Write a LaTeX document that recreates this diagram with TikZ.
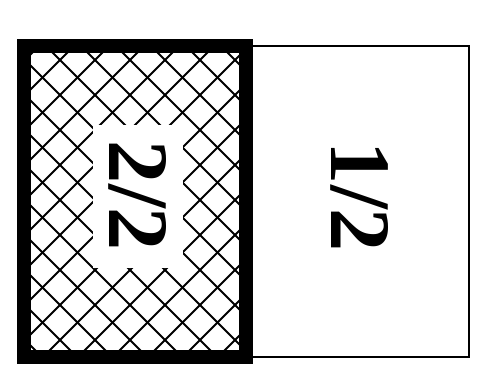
\documentclass[tikz,border=0pt]{standalone}
\usepackage{fontspec}
\setmainfont{Liberation Serif}

\begin{document}
\begin{tikzpicture}[
    line width=1.1pt, color=black,
    hatch/.style={line width=1.1pt},
    frac/.style={font=\fontsize{49}{49}\selectfont\bfseries, text=black, rotate=-90, inner sep=0pt}]
  % fixed canvas
  \path[use as bounding box] (0,0) rectangle (9.54,7.52);

  % ================= right half: plain sheet =================
  \draw (4.92,0.38) rectangle (9.38,6.60);
  \node[frac] (rhalf) at (7.20,3.58) {1/2};

  % ================= left half: cross-hatched sheet =================
  \begin{scope}
    \clip (0.48,0.38) rectangle (4.92,6.60);
    \foreach \k in {-12,...,8}
      \draw[hatch] ({0.48+0.7*\k-1},-1) -- ++(9,9);
    \foreach \k in {-1,...,18}
      \draw[hatch] ({0.52+0.7*\k+1},-1) -- ++(-9,9);
  \end{scope}
  \draw[line width=8.5pt] (0.48,0.38) rectangle (4.92,6.60);
  \node[frac, fill=white, minimum width=2.86cm, minimum height=1.80cm] (lhalf) at (2.76,3.60) {2/2};
\end{tikzpicture}
\end{document}
